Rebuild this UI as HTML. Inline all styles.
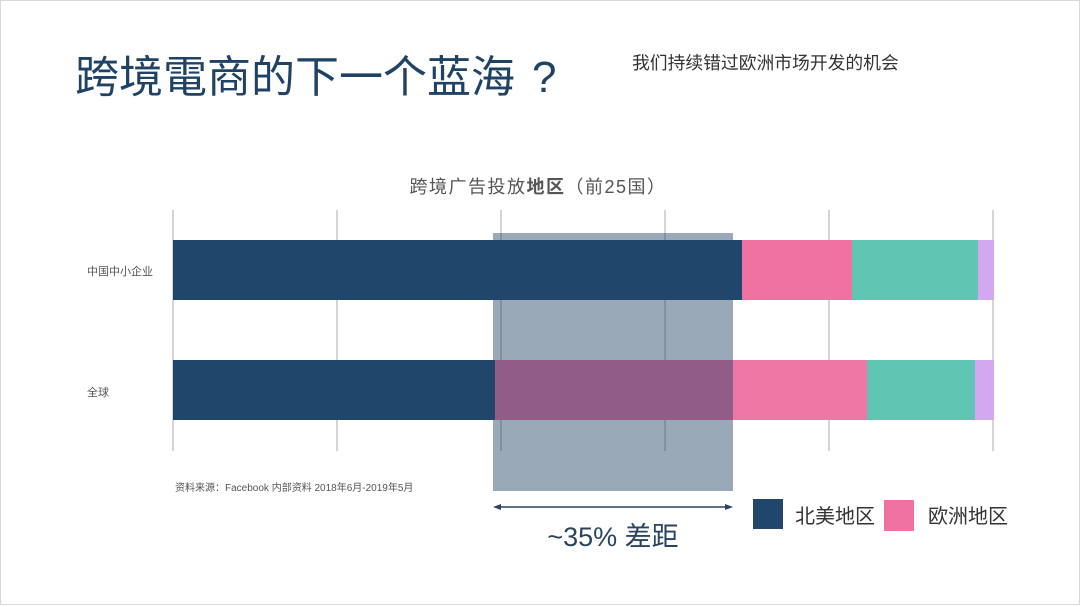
<!DOCTYPE html>
<html><head><meta charset="utf-8"><style>
body{margin:0;background:#fff;}
svg{display:block;}
text{font-family:"Liberation Sans","Noto Sans CJK SC",sans-serif;}
</style></head><body>
<svg width="1080" height="607" viewBox="0 0 1080 607">
<rect width="1080" height="607" fill="#fff"/>
<rect x="0.5" y="0.5" width="1079" height="604" fill="none" stroke="#d8d8d8"/>
<text x="75" y="92" font-size="44" fill="#1f4265">跨境電商的下一个蓝海<tspan x="532">?</tspan></text>
<text x="632" y="69" font-size="17.8" fill="#333">我们持续错过欧洲市场开发的机会</text>
<text x="538" y="193" font-size="18" letter-spacing="1.5" fill="#555" text-anchor="middle">跨境广告投放<tspan font-weight="bold">地区</tspan>（前25国）</text>
<g stroke="#d4d4d4" stroke-width="2">
<line x1="173" y1="210" x2="173" y2="451"/><line x1="337" y1="210" x2="337" y2="451"/>
<line x1="501" y1="210" x2="501" y2="451"/><line x1="665" y1="210" x2="665" y2="451"/>
<line x1="829" y1="210" x2="829" y2="451"/><line x1="993" y1="210" x2="993" y2="451"/>
</g>
<rect x="493" y="233" width="240" height="258" fill="#1f4060" fill-opacity="0.45"/>
<rect x="173" y="240" width="569" height="60" fill="#21466c"/>
<rect x="742" y="240" width="110" height="60" fill="#ef72a1"/>
<rect x="852" y="240" width="126" height="60" fill="#60c6b3"/>
<rect x="978" y="240" width="16" height="60" fill="#d4a8f0"/>
<rect x="173" y="360" width="322" height="60" fill="#21466c"/>
<rect x="495" y="360" width="238" height="60" fill="#925c88"/>
<rect x="733" y="360" width="134" height="60" fill="#ef77a3"/>
<rect x="867" y="360" width="108" height="60" fill="#60c6b3"/>
<rect x="975" y="360" width="19" height="60" fill="#d4a8f0"/>
<text x="87" y="275" font-size="11" fill="#555">中国中小企业</text>
<text x="87" y="396" font-size="11" fill="#555">全球</text>
<text x="175" y="491" font-size="10" fill="#555">资料来源：Facebook 内部资料 2018年6月-2019年5月</text>
<line x1="496" y1="507" x2="730" y2="507" stroke="#2a4560" stroke-width="1.5"/>
<path d="M493 507 L501 504 L501 510Z M733 507 L725 504 L725 510Z" fill="#2a4560"/>
<text x="613" y="546" font-size="27" fill="#2a4560" text-anchor="middle">~35% 差距</text>
<rect x="753" y="499" width="30" height="30" fill="#21466c"/>
<text x="795" y="523" font-size="20" fill="#333">北美地区</text>
<rect x="884" y="500" width="30" height="31" fill="#ef72a1"/>
<text x="928" y="523" font-size="20" fill="#333">欧洲地区</text>
</svg>
</body></html>
